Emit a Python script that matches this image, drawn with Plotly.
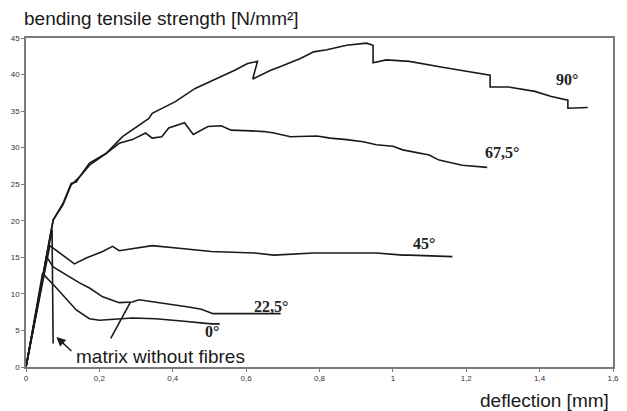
import plotly.graph_objects as go

# deflection [mm] / bending tensile strength [N/mm²]
x_90 = [0, 0.074, 0.101, 0.123, 0.137, 0.146, 0.173, 0.218, 0.263, 0.335, 0.344, 0.407, 0.461,
        0.523, 0.569, 0.604, 0.631, 0.618, 0.667, 0.694, 0.748, 0.784, 0.820, 0.874, 0.928,
        0.946, 0.946, 0.982, 1.045, 1.135, 1.207, 1.265, 1.265, 1.315, 1.387, 1.432, 1.477,
        1.477, 1.531]
y_90 = [0, 20.1, 22.4, 25.1, 25.3, 26.0, 27.9, 29.2, 31.5, 34.0, 34.7, 36.3, 38.1,
        39.5, 40.6, 41.5, 41.8, 39.4, 40.6, 41.1, 42.2, 43.1, 43.4, 44.0, 44.3,
        44.0, 41.6, 42.0, 41.8, 41.0, 40.4, 39.9, 38.3, 38.3, 37.7, 37.0, 36.5,
        35.4, 35.5]

x_675 = [0, 0.074, 0.101, 0.123, 0.146, 0.173, 0.218, 0.254, 0.290, 0.326, 0.344, 0.370, 0.389,
         0.424, 0.432, 0.456, 0.496, 0.532, 0.559, 0.613, 0.649, 0.676, 0.721, 0.793, 0.829,
         0.874, 0.919, 0.955, 1.000, 1.027, 1.099, 1.126, 1.189, 1.257]
y_675 = [0, 20.1, 22.2, 24.9, 26.0, 27.6, 29.2, 30.6, 31.1, 32.0, 31.3, 31.5, 32.7,
         33.3, 33.4, 31.8, 32.9, 33.0, 32.4, 32.3, 32.2, 32.0, 31.5, 31.6, 31.3,
         31.1, 30.8, 30.4, 30.2, 29.7, 29.0, 28.3, 27.6, 27.3]

x_45 = [0, 0.065, 0.132, 0.164, 0.209, 0.236, 0.254, 0.290, 0.344, 0.424, 0.505, 0.623, 0.676,
        0.784, 0.892, 0.955, 1.027, 1.045, 1.162]
y_45 = [0, 16.6, 14.1, 14.9, 15.8, 16.5, 15.9, 16.2, 16.6, 16.2, 15.8, 15.6, 15.3,
        15.6, 15.6, 15.6, 15.3, 15.3, 15.1]

x_225 = [0, 0.056, 0.074, 0.146, 0.173, 0.209, 0.254, 0.290, 0.308, 0.380, 0.443, 0.478, 0.510, 0.694]
y_225 = [0, 15.1, 13.7, 11.5, 10.8, 9.6, 8.8, 8.9, 9.2, 8.7, 8.2, 7.9, 7.3, 7.3]

x_0 = [0, 0.045, 0.083, 0.137, 0.173, 0.200, 0.290, 0.353, 0.424, 0.505, 0.528]
y_0 = [0, 12.8, 10.8, 7.8, 6.6, 6.4, 6.7, 6.6, 6.3, 5.9, 5.9]

x_matrix = [0, 0.071, 0.074]
y_matrix = [0, 18.8, 3.2]

x_leader = [0.231, 0.285]
y_leader = [3.9, 8.9]

x_ticks = [0, 0.2, 0.4, 0.6, 0.8, 1.0, 1.2, 1.4, 1.6]
x_ticktext = ["0", "0,2", "0,4", "0,6", "0,8", "1", "1,2", "1,4", "1,6"]
y_ticks = [0, 5, 10, 15, 20, 25, 30, 35, 40, 45]

curve_labels = ["90°", "67,5°", "45°", "22,5°", "0°"]
label_x = [1.475, 1.297, 1.085, 0.668, 0.506]
label_y = [39.3, 29.4, 16.9, 8.3, 4.8]

fig = go.Figure()
line = dict(color="#1a1a1a", width=1.6)
for xs, ys in [(x_90, y_90), (x_675, y_675), (x_45, y_45), (x_225, y_225),
               (x_0, y_0), (x_matrix, y_matrix), (x_leader, y_leader)]:
    fig.add_trace(go.Scatter(x=xs, y=ys, mode="lines", line=line, showlegend=False,
                             hoverinfo="skip"))

for t, lx, ly in zip(curve_labels, label_x, label_y):
    fig.add_annotation(x=lx, y=ly, text="<b>" + t + "</b>", showarrow=False,
                       font=dict(family="Liberation Serif", size=16, color="#222"),
                       xanchor="center", yanchor="middle")

fig.add_annotation(x=0.083, y=4.1, ax=0.128, ay=2.0, axref="x", ayref="y",
                   showarrow=True, arrowhead=2, arrowsize=1.3, arrowwidth=1.4,
                   arrowcolor="#1a1a1a", text="")
fig.add_annotation(x=0.132, y=1.4, text="matrix without fibres", showarrow=False,
                   xanchor="left", yanchor="middle",
                   font=dict(family="Liberation Sans", size=19, color="#1a1a1a"))

fig.add_annotation(xref="paper", yref="paper", x=-0.007, y=1.058,
                   text="bending tensile strength [N/mm²]", showarrow=False,
                   xanchor="left", yanchor="middle",
                   font=dict(family="Liberation Sans", size=19, color="#1a1a1a"))
fig.add_annotation(xref="paper", yref="paper", x=0.997, y=-0.103,
                   text="deflection [mm]", showarrow=False,
                   xanchor="right", yanchor="middle",
                   font=dict(family="Liberation Sans", size=19, color="#1a1a1a"))

axis_common = dict(showline=True, linecolor="#7a7a7a", linewidth=1.5, mirror=True,
                   showgrid=False, zeroline=False, ticks="outside", ticklen=3,
                   tickcolor="#7a7a7a", tickwidth=1,
                   tickfont=dict(family="Liberation Sans", size=8, color="#333"))
fig.update_xaxes(range=[0, 1.6], tickvals=x_ticks, ticktext=x_ticktext, **axis_common)
fig.update_yaxes(range=[0, 45], tickvals=y_ticks, **axis_common)

fig.update_layout(width=627, height=411, margin=dict(l=26, r=8, t=38, b=44),
                  paper_bgcolor="white", plot_bgcolor="white")

fig.write_html("out.html")
